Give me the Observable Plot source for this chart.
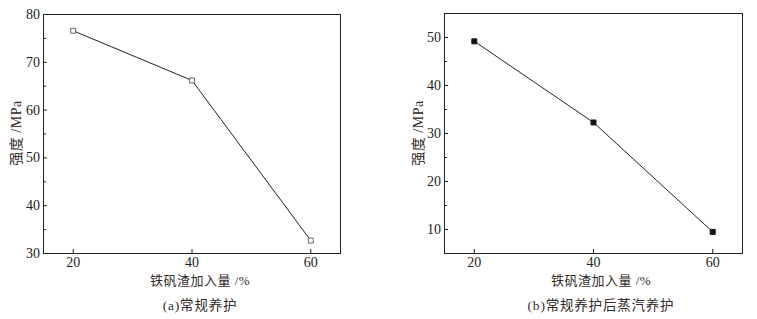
<!DOCTYPE html>
<html><head><meta charset="utf-8">
<script src="https://cdn.jsdelivr.net/npm/d3@7"></script>
<script src="https://cdn.jsdelivr.net/npm/@observablehq/plot@0.6"></script>
<style>
body{margin:0;background:#fff;width:757px;height:319px;overflow:hidden;font-family:"Liberation Serif",serif;}
#wrap{position:relative;width:757px;height:319px;}
.panel{position:absolute;top:0;}
.lab{position:absolute;white-space:nowrap;transform:translateX(-50%);color:#332a28;font-family:"Liberation Serif","Noto Sans CJK SC",serif;}
</style></head><body><div id="wrap"></div>
<script>
const slagPct = [20, 40, 60];
const strengthNormal = [76.6, 66.2, 32.7];
const strengthSteam = [49.2, 32.3, 9.5];
const xTicks = [20, 40, 60];
const yTicksA = [30, 40, 50, 60, 70, 80];
const yMinorA = [35, 45, 55, 65, 75];
const yTicksB = [10, 20, 30, 40, 50];
const yMinorB = [15, 25, 35, 45, 55];
const yLabel = "强度 /MPa";
const xLabel = "铁矾渣加入量 /%";
const captionA = "(a)常规养护";
const captionB = "(b)常规养护后蒸汽养护";

const wrap = document.getElementById("wrap");
const H = 272;
function panel(o){
  const data = slagPct.map((x,i)=>({x, y:o.values[i]}));
  const chart = Plot.plot({
    width:o.width, height:H,
    marginLeft:o.ml, marginRight:o.mr, marginTop:o.mt, marginBottom:H-o.bottom,
    style:{fontFamily:"'Liberation Serif',serif", fontSize:"14px", color:"#222", background:"#fff", overflow:"visible"},
    x:{domain:[15,65]},
    y:{domain:o.ydom},
    marks:[
      Plot.frame({stroke:"#222", strokeWidth:1}),
      Plot.axisX({ticks:xTicks, tickSize:-4, tickPadding:8, label:null, tickFormat:d=>String(d), stroke:"#222"}),
      Plot.axisY({ticks:o.yt, tickSize:-4, tickPadding:7.5, label:null, tickFormat:d=>String(d), stroke:"#222"}),
      Plot.axisY({ticks:o.ym, tickSize:-3, text:null, label:null, stroke:"#222"}),
      Plot.line(data,{x:"x",y:"y",stroke:"#222",strokeWidth:1}),
      Plot.dot(data,{x:"x",y:"y",symbol:"square",r:2.8,stroke:o.filled?"#111":"#666",fill:o.filled?"#111":"#fff",strokeWidth:1})
    ]
  });
  const div = document.createElement("div");
  div.className="panel"; div.style.left=o.left+"px";
  div.appendChild(chart);
  wrap.appendChild(div);
  const yl = document.createElement("div");
  yl.className="lab"; yl.textContent=yLabel;
  yl.style.cssText += `left:${o.left+o.ylx}px;top:${o.yly}px;font-size:14px;letter-spacing:0.5px;transform:translate(-50%,-50%) rotate(-90deg);`;
  wrap.appendChild(yl);
  const xl = document.createElement("div");
  xl.className="lab"; xl.textContent=xLabel;
  xl.style.cssText += `left:${o.left+o.capx}px;top:270px;font-size:13px;letter-spacing:0.5px;`;
  wrap.appendChild(xl);
  const cp = document.createElement("div");
  cp.className="lab"; cp.textContent=o.caption;
  cp.style.cssText += `left:${o.left+o.capx}px;top:294px;font-size:13.5px;letter-spacing:0.8px;`;
  wrap.appendChild(cp);
}
panel({left:0,width:378,ml:43,mr:38,mt:14,bottom:253,ydom:[30,80],yt:yTicksA,ym:yMinorA,values:strengthNormal,filled:false,ylx:15,yly:133,capx:200,caption:captionA});
panel({left:378,width:379,ml:66,mr:15,mt:13,bottom:253,ydom:[5,55],yt:yTicksB,ym:yMinorB,values:strengthSteam,filled:true,ylx:39,yly:133,capx:223,caption:captionB});
</script></body></html>
